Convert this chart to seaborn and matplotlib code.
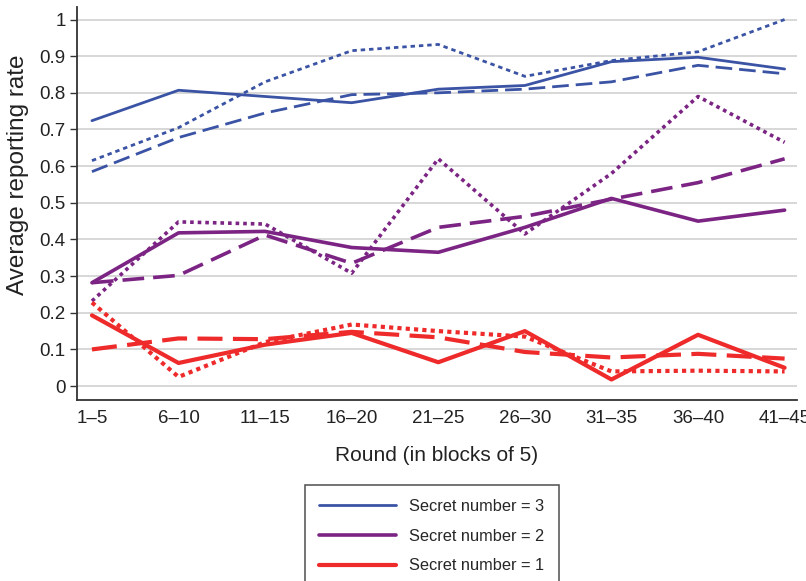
import matplotlib
matplotlib.use('Agg')
import matplotlib.pyplot as plt
from matplotlib.lines import Line2D
import pandas as pd
import seaborn as sns

rounds = ['1–5', '6–10', '11–15', '16–20', '21–25', '26–30', '31–35', '36–40', '41–45']

# secret number = 3
s3_solid = [0.724, 0.807, 0.790, 0.773, 0.810, 0.820, 0.885, 0.897, 0.865]
s3_dotted = [0.615, 0.705, 0.830, 0.915, 0.932, 0.845, 0.888, 0.912, 1.000]
s3_dashed = [0.585, 0.678, 0.745, 0.795, 0.800, 0.810, 0.830, 0.875, 0.852]
# secret number = 2
s2_solid = [0.282, 0.418, 0.422, 0.378, 0.365, 0.433, 0.512, 0.450, 0.480]
s2_dotted = [0.232, 0.448, 0.442, 0.308, 0.620, 0.415, 0.580, 0.790, 0.665]
s2_dashed = [0.282, 0.302, 0.412, 0.335, 0.433, 0.463, 0.510, 0.555, 0.620]
# secret number = 1
s1_solid = [0.193, 0.063, 0.113, 0.145, 0.065, 0.150, 0.018, 0.140, 0.050]
s1_dotted = [0.228, 0.025, 0.120, 0.168, 0.150, 0.135, 0.040, 0.042, 0.040]
s1_dashed = [0.100, 0.130, 0.128, 0.148, 0.133, 0.093, 0.078, 0.088, 0.075]

secrets = ['3', '2', '1']
colors = {'3': '#3a53a4', '2': '#7b2483', '1': '#ee2a2a'}
widths = {'3': 2.0, '2': 2.6, '1': 3.0}
series = {
    '3': {'solid': s3_solid, 'dotted': s3_dotted, 'dashed': s3_dashed},
    '2': {'solid': s2_solid, 'dotted': s2_dotted, 'dashed': s2_dashed},
    '1': {'solid': s1_solid, 'dotted': s1_dotted, 'dashed': s1_dashed},
}

rows = []
for s in secrets:
    for kind, vals in series[s].items():
        for i, v in enumerate(vals):
            rows.append({'round': i, 'rate': v, 'secret': s, 'kind': kind})
df = pd.DataFrame(rows)

sns.set_style('whitegrid')
plt.rcParams['font.family'] = ['Liberation Sans', 'DejaVu Sans']

fig = plt.figure(figsize=(8.06, 5.81), dpi=100)
ax = fig.add_axes([0.0955, 0.3115, 0.893, 0.677])

dash_sets = {
    '3': {'solid': '', 'dotted': (1.6, 1.4), 'dashed': (6, 2.5)},
    '2': {'solid': '', 'dotted': (1.0, 1.1), 'dashed': (6, 2.5)},
    '1': {'solid': '', 'dotted': (1.0, 1.0), 'dashed': (6, 2.5)},
}

for s in secrets:
    sub = df[df['secret'] == s]
    sns.lineplot(data=sub, x='round', y='rate', style='kind',
                 style_order=['solid', 'dotted', 'dashed'],
                 dashes=dash_sets[s], color=colors[s],
                 linewidth=widths[s], legend=False, ax=ax)

ax.set_xlim(-0.173, 8.14)
ax.set_ylim(-0.038, 1.035)
ax.set_xticks(range(len(rounds)))
ax.set_xticklabels(rounds)
ax.set_yticks([0, 0.1, 0.2, 0.3, 0.4, 0.5, 0.6, 0.7, 0.8, 0.9, 1.0])
ax.set_yticklabels(['0', '0.1', '0.2', '0.3', '0.4', '0.5', '0.6', '0.7', '0.8', '0.9', '1'])
ax.tick_params(axis='y', length=5, width=1, color='#333333', labelsize=13.5, labelcolor='#222222', pad=3, left=True)
ax.tick_params(axis='x', length=0, labelsize=13.5, labelcolor='#222222', pad=7)

ax.grid(axis='x', visible=False)
ax.grid(axis='y', color='#d4d4d4', linewidth=1.3)
for side in ['top', 'right']:
    ax.spines[side].set_visible(False)
for side in ['left', 'bottom']:
    ax.spines[side].set_visible(True)
    ax.spines[side].set_color('#333333')
    ax.spines[side].set_linewidth(1.3)

ax.set_xlabel('Round (in blocks of 5)', fontsize=15, color='#222222')
ax.set_ylabel('Average reporting rate', fontsize=17.5, color='#222222')
ax.xaxis.set_label_coords(0.5, -0.118)
ax.yaxis.set_label_coords(-0.066, 0.573)

handles = [Line2D([0], [0], color=colors[s], linewidth=widths[s]) for s in secrets]
labels = ['Secret number = ' + s for s in secrets]
leg = fig.legend(handles, labels, loc='upper center', bbox_to_anchor=(0.536, 1 - 485 / 581),
                 frameon=True, fancybox=False, edgecolor='#333333', fontsize=11.8,
                 handlelength=4.7, handletextpad=0.8, labelspacing=0.9,
                 borderpad=0.85, borderaxespad=0)
leg.get_frame().set_linewidth(1.2)

fig.savefig('out.png', dpi=100)
